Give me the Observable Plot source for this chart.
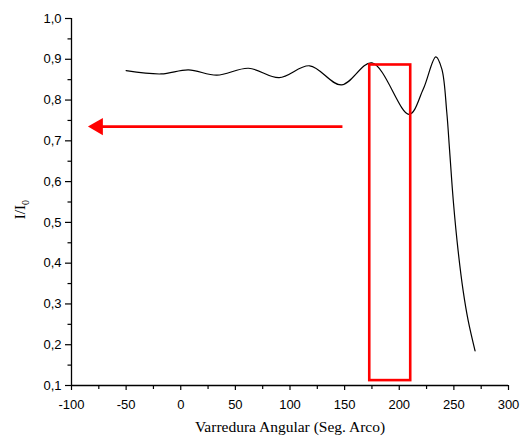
<!DOCTYPE html>
<html>
<head>
<meta charset="utf-8">
<script src="https://cdn.jsdelivr.net/npm/d3@7"></script>
<script src="https://cdn.jsdelivr.net/npm/@observablehq/plot@0.6"></script>
<style>
  html, body { margin: 0; padding: 0; background: #fff; }
  #chart svg { display: block; }
</style>
</head>
<body>
<div id="chart"></div>
<script>
// Curve: scan angle (arc seconds) vs relative intensity I/I0
const scanAngle = [-50, -18, 7, 33, 62, 90, 118, 147, 175, 209, 222, 233.5, 239, 243.5, 246.1, 249.5, 253.9, 258.5, 263.1, 269.4];
const intensity = [0.872, 0.864, 0.874, 0.861, 0.878, 0.855, 0.884, 0.837, 0.891, 0.765, 0.827, 0.906, 0.876, 0.770, 0.676, 0.552, 0.430, 0.332, 0.259, 0.185];

// Axis ticks
const xTicks = [-100, -50, 0, 50, 100, 150, 200, 250, 300];
const xMinorTicks = [-75, -25, 25, 75, 125, 175, 225, 275];
const yTicks = [0.1, 0.2, 0.3, 0.4, 0.5, 0.6, 0.7, 0.8, 0.9, 1.0];
const yMinorTicks = [0.15, 0.25, 0.35, 0.45, 0.55, 0.65, 0.75, 0.85, 0.95];

// Annotations
const boxX = [173, 210.5];
const boxY = [0.112, 0.886];
const arrowFromX = 148;
const arrowShaftEndX = -74;
const arrowTipX = -85;
const arrowY = 0.735;

const xLabel = "Varredura Angular (Seg. Arco)";

const curve = scanAngle.map((x, i) => ({x, y: intensity[i]}));
const comma = d => d.toFixed(1).replace(".", ",");

const plot = Plot.plot({
  width: 527,
  height: 445,
  marginLeft: 71,
  marginRight: 19,
  marginTop: 18,
  marginBottom: 60,
  style: {fontFamily: "'Liberation Sans', Arial, sans-serif", fontSize: "13px", color: "#000", background: "#fff"},
  x: {domain: [-100, 300]},
  y: {domain: [0.1, 1.0]},
  marks: [
    Plot.axisX({ticks: xTicks, tickSize: 5, tickPadding: 9, tickFormat: d => String(d), label: null, strokeWidth: 1.2}),
    Plot.axisX({ticks: xMinorTicks, tickSize: 4, text: null, label: null, strokeWidth: 1.2}),
    Plot.axisY({ticks: yTicks, tickSize: 6, tickPadding: 4, tickFormat: comma, label: null, strokeWidth: 1.2}),
    Plot.axisY({ticks: yMinorTicks, tickSize: 3.5, text: null, label: null, strokeWidth: 1.2}),
    Plot.ruleX([-100], {stroke: "#000", strokeWidth: 1.3}),
    Plot.ruleY([0.1], {stroke: "#000", strokeWidth: 1.3}),
    Plot.line(curve, {x: "x", y: "y", curve: "catmull-rom", stroke: "#000", strokeWidth: 1.2}),
    Plot.rect([{x1: boxX[0], x2: boxX[1], y1: boxY[0], y2: boxY[1]}],
      {x1: "x1", x2: "x2", y1: "y1", y2: "y2", fill: "none", stroke: "#ff0000", strokeWidth: 2.6}),
    Plot.link([{x1: arrowFromX, x2: arrowShaftEndX, y: arrowY}],
      {x1: "x1", x2: "x2", y1: "y", y2: "y", stroke: "#ff0000", strokeWidth: 2.8}),
    Plot.dot([{x: arrowTipX, y: arrowY}],
      {x: "x", y: "y", symbol: "triangle", r: 6.4, rotate: -90, dx: 10, fill: "#ff0000", stroke: "none"}),
    Plot.text([xLabel], {text: d => d, frameAnchor: "bottom", dy: 46,
      fontFamily: "'Liberation Serif', 'Times New Roman', serif", fontSize: 15.5, fill: "#000"})
  ]
});

document.getElementById("chart").appendChild(plot);

// y-axis label with subscript
const ys = plot.scale("y");
const svg = d3.select(plot);
const yl = svg.append("text")
  .attr("transform", `translate(25,${ys.apply(0.53)}) rotate(-90)`)
  .attr("text-anchor", "middle")
  .attr("font-family", "'Liberation Serif', 'Times New Roman', serif")
  .attr("font-size", 15)
  .attr("fill", "#000");
yl.append("tspan").text("I/I");
yl.append("tspan").attr("font-size", 10).attr("dy", 4).text("0");
</script>
</body>
</html>
